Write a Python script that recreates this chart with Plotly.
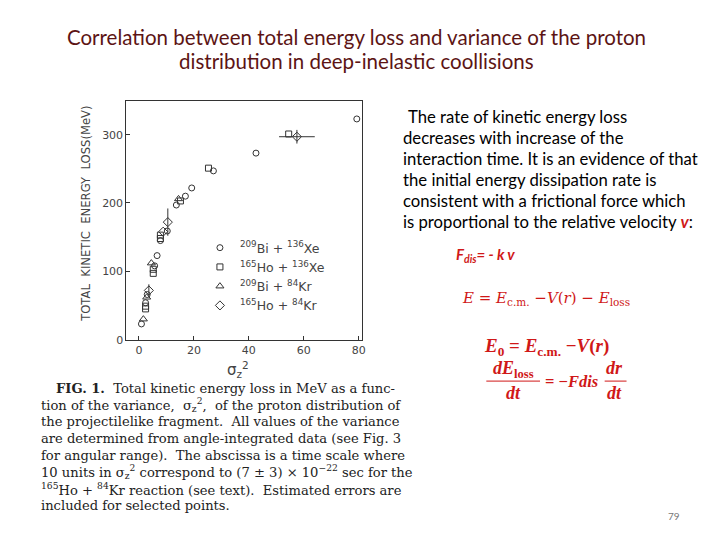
import plotly.graph_objects as go

# ---- data ----
bi_xe_x = [0.9, 2.4, 3.0, 5.7, 6.6, 7.8, 10.3, 13.6, 16.9, 19.2, 27.1, 42.6, 79.3]
bi_xe_y = [23, 54, 66, 108, 123, 145, 159, 197, 210, 222, 247, 273, 323]

ho_xe_x = [2.4, 2.4, 5.2, 5.2, 7.8, 7.8, 15.1, 25.3, 54.5]
ho_xe_y = [45, 49, 97, 103, 148, 153, 203, 251, 301]

bi_kr_x = [1.6, 2.8, 4.5, 14.4]
bi_kr_y = [30, 62, 112, 206]

ho_kr_x = [3.6, 8.8, 10.5, 57.5]
ho_kr_y = [72, 158, 172, 297]
ho_kr_yerr = [9, 0, 20, 10]
ho_kr_xerr = [0, 0, 0, 6.5]

x_ticks = [0, 20, 40, 60, 80]
y_ticks = [0, 100, 200, 300]

series_names = ["<sup>209</sup>Bi + <sup>136</sup>Xe",
                "<sup>165</sup>Ho + <sup>136</sup>Xe",
                "<sup>209</sup>Bi + <sup>84</sup>Kr",
                "<sup>165</sup>Ho + <sup>84</sup>Kr"]

INK = "#333333"
RED = "#d01818"
TITLE = "#5c1414"

fig = go.Figure()

def mk(symbol, size=6):
    return dict(symbol=symbol, size=size, color=INK, line=dict(color=INK, width=1))

fig.add_trace(go.Scatter(x=bi_xe_x, y=bi_xe_y, mode="markers", name=series_names[0],
                         marker=mk("circle-open", 6)))
fig.add_trace(go.Scatter(x=ho_xe_x, y=ho_xe_y, mode="markers", name=series_names[1],
                         marker=mk("square-open", 6)))
fig.add_trace(go.Scatter(x=bi_kr_x, y=bi_kr_y, mode="markers", name=series_names[2],
                         marker=mk("triangle-up-open", 7)))
fig.add_trace(go.Scatter(x=ho_kr_x, y=ho_kr_y, mode="markers", name=series_names[3],
                         marker=mk("diamond-open", 7),
                         error_y=dict(type="data", array=ho_kr_yerr, color=INK, thickness=1, width=0),
                         error_x=dict(type="data", array=ho_kr_xerr, color=INK, thickness=1, width=0)))

W, H = 720, 540
def px(x): return x / W
def py(y): return 1 - y / H

fig.update_layout(
    width=W, height=H,
    margin=dict(l=0, r=0, t=0, b=0),
    paper_bgcolor="white", plot_bgcolor="white",
    showlegend=True,
    legend=dict(x=px(193), y=py(228), xanchor="left", yanchor="top",
                bgcolor="rgba(0,0,0,0)", font=dict(family="DejaVu Sans", size=12.5, color="#444444"),
                itemwidth=30, tracegroupgap=0),
    xaxis=dict(domain=[px(119), px(356)], range=[-4.6, 81.2],
               tickvals=x_ticks, ticks="inside", ticklen=4, tickcolor=INK,
               showline=True, linecolor=INK, linewidth=1, mirror=True,
               showgrid=False, zeroline=False,
               tickfont=dict(family="DejaVu Sans", size=11, color="#444444")),
    yaxis=dict(domain=[py(336), py(94)], range=[0, 349.6],
               tickvals=y_ticks, ticks="inside", ticklen=4, tickcolor=INK,
               showline=True, linecolor=INK, linewidth=1, mirror=True,
               showgrid=False, zeroline=False,
               tickfont=dict(family="DejaVu Sans", size=11, color="#444444")),
)

ann = []
def text(x, y, s, size, color="black", family="Lato", xanchor="left", yanchor="middle", angle=0):
    ann.append(dict(x=px(x), y=py(y), xref="paper", yref="paper", text=s, showarrow=False,
                    xanchor=xanchor, yanchor=yanchor, textangle=angle,
                    font=dict(family=family, size=size, color=color)))

# title
text(350, 29, "Correlation between total energy loss and variance of the proton", 20.5, TITLE, xanchor="center")
text(350, 54, "distribution in deep-inelastic coollisions", 20.5, TITLE, xanchor="center")

# axis titles of the scanned figure
text(79, 209, "TOTAL  KINETIC  ENERGY  LOSS(MeV)", 11.6, "#444444", family="DejaVu Sans",
     xanchor="center", angle=-90)
text(231, 366, "σ<sub>z</sub><sup>2</sup>", 15, "#444444", family="DejaVu Sans", xanchor="center")

# right paragraph
para = ["The rate of kinetic energy loss",
        "decreases with increase of the",
        "interaction time. It is an evidence of that",
        "the initial energy dissipation rate is",
        "consistent with a frictional force which",
        "is proportional to the relative velocity <b><i><span style='color:%s'>v</span></i></b>:" % RED]
for i, line in enumerate(para):
    x0 = 400 if i == 0 else 395
    text(x0, 110 + i * 21.4, line, 16.7, "black")

# formulas
text(448, 250, "<b><i>F<sub>dis</sub>= - k v</i></b>", 15, RED)
text(455, 294, "<i>E</i> = <i>E</i><sub>c.m.</sub> −<i>V</i>(<i>r</i>) − <i>E</i><sub>loss</sub>", 15, RED,
     family="DejaVu Serif")
text(477, 343, "<b><i>E</i><sub>0</sub> = <i>E</i><sub>c.m.</sub> −<i>V</i>(<i>r</i>)</b>", 19, RED,
     family="Liberation Serif")
text(508, 366, "<b><i>dE</i><sub>loss</sub></b>", 18, RED, family="Liberation Serif", xanchor="center")
text(508, 390, "<b><i>dt</i></b>", 18, RED, family="Liberation Serif", xanchor="center")
text(538, 378, "<b>= −<i>Fdis</i></b>", 16.5, RED, family="Liberation Serif")
text(610, 365, "<b><i>dr</i></b>", 18, RED, family="Liberation Serif", xanchor="center")
text(610, 390, "<b><i>dt</i></b>", 18, RED, family="Liberation Serif", xanchor="center")

# caption
cap = ["<b>FIG. 1.</b>  Total kinetic energy loss in MeV as a func-",
       "tion of the variance,  σ<sub>z</sub><sup>2</sup>,  of the proton distribution of",
       "the projectilelike fragment.  All values of the variance",
       "are determined from angle-integrated data (see Fig. 3",
       "for angular range).  The abscissa is a time scale where",
       "10 units in σ<sub>z</sub><sup>2</sup> correspond to (7 ± 3) × 10<sup>−22</sup> sec for the",
       "<sup>165</sup>Ho + <sup>84</sup>Kr reaction (see text).  Estimated errors are",
       "included for selected points."]
for i, line in enumerate(cap):
    x0 = 46 if i == 0 else 31
    text(x0, 385 + i * 17, line, 13.1, "#222222", family="DejaVu Serif")

text(670, 515, "79", 10, "#777777", family="Lato", xanchor="center")

fig.update_layout(annotations=ann)

# fraction bars
fig.add_shape(type="line", xref="paper", yref="paper", x0=px(481), x1=px(535), y0=py(378), y1=py(378),
              line=dict(color=RED, width=1))
fig.add_shape(type="line", xref="paper", yref="paper", x0=px(600), x1=px(622), y0=py(378), y1=py(378),
              line=dict(color=RED, width=1))

fig.write_html("out.html")
